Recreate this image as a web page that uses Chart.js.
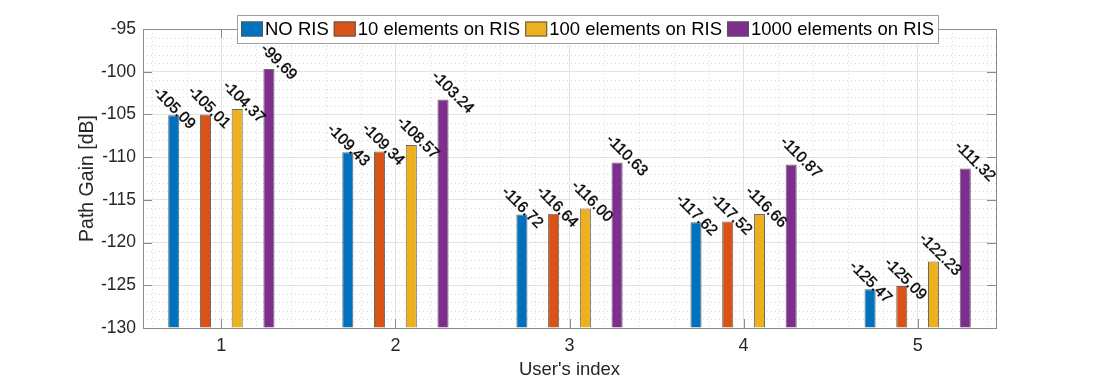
<!DOCTYPE html>
<html>
<head>
<meta charset="utf-8">
<script src="https://cdn.jsdelivr.net/npm/chart.js@4/dist/chart.umd.min.js"></script>
<style>
  html, body { margin: 0; padding: 0; background: #fff; }
  #wrap { width: 1101px; height: 382px; }
</style>
</head>
<body>
<div id="wrap"><canvas id="chartCanvas" width="1101" height="382"></canvas></div>
<script>
// --- data ---
const users = [1, 2, 3, 4, 5];
const seriesNames = ["NO RIS", "10 elements on RIS", "100 elements on RIS", "1000 elements on RIS"];
const noRis = [-105.09, -109.43, -116.72, -117.62, -125.47];
const ris10 = [-105.01, -109.34, -116.64, -117.52, -125.09];
const ris100 = [-104.37, -108.57, -116.00, -116.66, -122.23];
const ris1000 = [-99.69, -103.24, -110.63, -110.87, -111.32];
const yTicks = [-130, -125, -120, -115, -110, -105, -100, -95];

const colors = ["#0072BD", "#D95319", "#EDB120", "#7E2F8E"];
const allSeries = [noRis, ris10, ris100, ris1000];
// x offsets (in user-index units) where the value labels are anchored
const labelOffsets = [-0.3, -0.1, 0.1, 0.3];

const FONT = '"Liberation Sans", Arial, sans-serif';
const axisGray = "#8a8a8a";

// --- plugins ---
const minorGrid = {
  id: "minorGrid",
  beforeDatasetsDraw(chart) {
    const { ctx, chartArea: a, scales: { x, y } } = chart;
    ctx.save();
    ctx.strokeStyle = "#dadada";
    ctx.lineWidth = 1;
    ctx.setLineDash([1, 3]);
    for (let v = -130; v <= -95; v += 1) {
      if (v % 5 === 0) continue;
      const py = Math.round(y.getPixelForValue(v)) + 0.5;
      ctx.beginPath(); ctx.moveTo(a.left, py); ctx.lineTo(a.right, py); ctx.stroke();
    }
    for (let k = 3; k <= 27; k++) {
      const v = k / 5;
      if (k % 5 === 0) continue;
      const px = Math.round(x.getPixelForValue(v)) + 0.5;
      ctx.beginPath(); ctx.moveTo(px, a.top); ctx.lineTo(px, a.bottom); ctx.stroke();
    }
    ctx.restore();
  }
};

const frameAndLabels = {
  id: "frameAndLabels",
  afterDatasetsDraw(chart) {
    const { ctx, chartArea: a, scales: { x, y } } = chart;
    ctx.save();
    // box + inner ticks
    ctx.strokeStyle = axisGray;
    ctx.lineWidth = 1;
    ctx.strokeRect(Math.round(a.left) + 0.5, Math.round(a.top) + 0.5,
      Math.round(a.right - a.left), Math.round(a.bottom - a.top));
    ctx.beginPath();
    users.forEach(u => {
      const px = Math.round(x.getPixelForValue(u)) + 0.5;
      ctx.moveTo(px, a.bottom); ctx.lineTo(px, a.bottom - 9);
      ctx.moveTo(px, a.top); ctx.lineTo(px, a.top + 9);
    });
    yTicks.forEach(v => {
      const py = Math.round(y.getPixelForValue(v)) + 0.5;
      ctx.moveTo(a.left, py); ctx.lineTo(a.left + 9, py);
      ctx.moveTo(a.right, py); ctx.lineTo(a.right - 9, py);
    });
    ctx.stroke();

    // rotated value labels
    ctx.fillStyle = "#000";
    ctx.font = "15.5px " + FONT;
    ctx.textAlign = "center";
    ctx.textBaseline = "middle";
    allSeries.forEach((vals, k) => {
      vals.forEach((v, i) => {
        const px = x.getPixelForValue(users[i] + labelOffsets[k]);
        const py = y.getPixelForValue(v);
        ctx.save();
        ctx.translate(px + 5, py - 7);
        ctx.rotate(Math.PI / 4);
        ctx.fillText(v.toFixed(2), 0, 0);
        ctx.strokeStyle = "rgba(0,0,0,0.55)";
        ctx.lineWidth = 0.7;
        ctx.strokeText(v.toFixed(2), 0, 0);
        ctx.restore();
      });
    });

    // legend box
    ctx.font = "18.5px " + FONT;
    ctx.textAlign = "left";
    const swW = 22, swH = 15, gapSw = 2, gapItem = 5, padX = 4;
    const widths = seriesNames.map(n => ctx.measureText(n).width);
    const total = widths.reduce((s, w) => s + swW + gapSw + w, 0) + gapItem * (seriesNames.length - 1) + padX * 2;
    const cx = 587.5, top = 15, h = 28;
    let lx = Math.round(cx - total / 2);
    ctx.fillStyle = "#fff";
    ctx.fillRect(lx, top, total, h);
    ctx.strokeStyle = "#a0a0a0";
    ctx.strokeRect(lx + 0.5, top + 0.5, Math.round(total), h);
    let xx = lx + padX;
    const midY = top + h / 2;
    seriesNames.forEach((n, k) => {
      ctx.fillStyle = colors[k];
      ctx.fillRect(xx, midY - swH / 2, swW, swH);
      ctx.strokeStyle = "#555";
      ctx.strokeRect(xx + 0.5, midY - swH / 2 + 0.5, swW - 1, swH - 1);
      ctx.fillStyle = "#000";
      ctx.fillText(n, xx + swW + gapSw, midY + 1);
      xx += swW + gapSw + widths[k] + gapItem;
    });
    ctx.restore();
  }
};

const datasets = allSeries.map((vals, k) => ({
  label: seriesNames[k],
  data: vals.map((v, i) => ({ x: users[i], y: v })),
  backgroundColor: colors[k],
  borderColor: "rgba(40,40,40,0.7)",
  borderWidth: 1,
  base: -130
}));

new Chart(document.getElementById("chartCanvas"), {
  type: "bar",
  data: { datasets },
  options: {
    responsive: false,
    devicePixelRatio: 1,
    animation: false,
    categoryPercentage: 0.729,
    barPercentage: 0.35,
    layout: { padding: { left: 76, right: 105, top: 29, bottom: 0 } },
    plugins: { legend: { display: false }, tooltip: { enabled: false } },
    scales: {
      x: {
        type: "linear",
        min: 0.55,
        max: 5.45,
        offset: false,
        afterBuildTicks: s => { s.ticks = users.map(v => ({ value: v })); },
        afterFit: s => { s.height = 54; },
        grid: { offset: false, color: "#e3e3e3", drawTicks: false },
        border: { display: false },
        ticks: { color: "#262626", font: { family: FONT, size: 18 }, padding: 7, maxRotation: 0 },
        title: { display: true, text: "User's index", color: "#262626",
                 font: { family: FONT, size: 18.5 }, padding: { top: 0, bottom: 1 } }
      },
      y: {
        min: -130,
        max: -95,
        beginAtZero: false,
        afterBuildTicks: s => { s.ticks = yTicks.map(v => ({ value: v })); },
        afterFit: s => { s.width = 67; },
        grid: { color: "#e3e3e3", drawTicks: false },
        border: { display: false },
        ticks: { color: "#262626", font: { family: FONT, size: 17.5 }, padding: 7 },
        title: { display: true, text: "Path Gain [dB]", color: "#262626",
                 font: { family: FONT, size: 19.5 }, padding: { top: 0, bottom: 0 } }
      }
    }
  },
  plugins: [minorGrid, frameAndLabels]
});
</script>
</body>
</html>
